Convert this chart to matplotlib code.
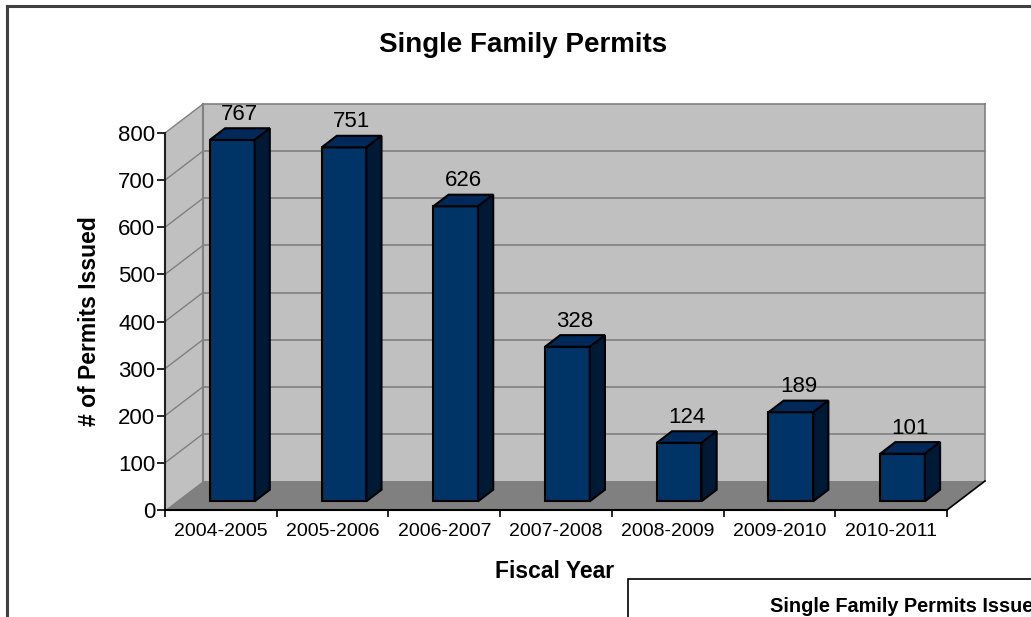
import matplotlib
matplotlib.use("Agg")
import matplotlib.pyplot as plt
from matplotlib.patches import Polygon, Rectangle
from matplotlib.lines import Line2D

# data
fiscal_years = ["2004-2005", "2005-2006", "2006-2007", "2007-2008",
                "2008-2009", "2009-2010", "2010-2011"]
permits_issued = [767, 751, 626, 328, 124, 189, 101]
y_ticks = [0, 100, 200, 300, 400, 500, 600, 700, 800]

plt.rcParams['font.family'] = ['Liberation Sans', 'DejaVu Sans']

W, H = 1031, 617
fig = plt.figure(figsize=(W / 100, H / 100), dpi=100)
fig.patch.set_facecolor("white")

# front plane of the pseudo-3D box maps onto this axes
ax = fig.add_axes([165 / W, 107 / H, 782 / W, 377 / H])
n = len(fiscal_years)
ymax = y_ticks[-1]
ax.set_xlim(0, n)
ax.set_ylim(0, ymax)
ax.patch.set_visible(False)

# depth of the box in data units (38 px right, 29 px up)
dx = 38 / (782 / n)
dy = 29 * ymax / 377

wall_color = "#c0c0c0"
floor_color = "#808080"
grid_color = "#808080"

# back wall, side wall, floor
ax.add_patch(Polygon([(dx, dy), (n + dx, dy), (n + dx, ymax + dy), (dx, ymax + dy)],
                     closed=True, facecolor=wall_color, edgecolor="none", clip_on=False, zorder=1))
ax.add_patch(Polygon([(0, 0), (dx, dy), (dx, ymax + dy), (0, ymax)],
                     closed=True, facecolor=wall_color, edgecolor="none", clip_on=False, zorder=1))
ax.add_patch(Polygon([(0, 0), (n, 0), (n + dx, dy), (dx, dy)],
                     closed=True, facecolor=floor_color, edgecolor="none", clip_on=False, zorder=1))

# gridlines on back wall and side wall
for v in y_ticks[1:]:
    ax.plot([dx, n + dx], [v + dy, v + dy], color=grid_color, lw=1.2, clip_on=False, zorder=2)
    ax.plot([0, dx], [v, v + dy], color=grid_color, lw=1.0, clip_on=False, zorder=2)
ax.plot([dx, dx], [dy, ymax + dy], color=grid_color, lw=1.5, clip_on=False, zorder=2)
ax.plot([n + dx, n + dx], [dy, ymax + dy], color=grid_color, lw=1.2, clip_on=False, zorder=2)
ax.plot([n, n + dx], [0, dy], color="black", lw=1.2, clip_on=False, zorder=2)

# bars
bar_w = 0.4
t0, t1 = 0.3, 0.7
bdx, bdy = (t1 - t0) * dx, (t1 - t0) * dy
for i, v in enumerate(permits_issued):
    x0 = i + 0.5 - bar_w / 2 + t0 * dx
    y0 = t0 * dy
    ax.add_patch(Rectangle((x0, y0), bar_w, v, facecolor="#003366", edgecolor="black",
                           lw=1.5, clip_on=False, zorder=3))
    ax.add_patch(Polygon([(x0, y0 + v), (x0 + bar_w, y0 + v), (x0 + bar_w + bdx, y0 + v + bdy),
                          (x0 + bdx, y0 + v + bdy)], closed=True, facecolor="#00295a",
                         edgecolor="black", lw=1.5, clip_on=False, zorder=3))
    ax.add_patch(Polygon([(x0 + bar_w, y0), (x0 + bar_w + bdx, y0 + bdy),
                          (x0 + bar_w + bdx, y0 + v + bdy), (x0 + bar_w, y0 + v)], closed=True,
                         facecolor="#001a35", edgecolor="black", lw=1.5, clip_on=False, zorder=3))
    ax.annotate(str(v), (i + 0.5 + 0.5 * dx, v + t1 * dy), xytext=(0, 6),
                textcoords="offset points", ha="center", va="baseline", fontsize=16,
                annotation_clip=False, zorder=4)

# axes, ticks
for s in ["top", "right"]:
    ax.spines[s].set_visible(False)
ax.spines["left"].set_color("#202020")
ax.spines["left"].set_linewidth(1.5)
ax.spines["bottom"].set_color("black")
ax.spines["bottom"].set_linewidth(1.5)
ax.spines["left"].set_zorder(5)
ax.spines["bottom"].set_zorder(5)

ax.set_yticks(y_ticks)
ax.tick_params(axis="y", labelsize=16, length=6, width=1.2, pad=1, direction="out")
ax.set_xticks(range(n + 1))
ax.set_xticklabels([])
ax.set_xticks([i + 0.5 for i in range(n)], minor=True)
ax.set_xticklabels(fiscal_years, minor=True)
ax.tick_params(axis="x", which="major", length=5, width=1.2, direction="out")
ax.tick_params(axis="x", which="minor", length=0, labelsize=14, pad=9)

# titles
fig.text(523 / W, 1 - 45 / H, "Single Family Permits", ha="center", va="center",
         fontsize=20, fontweight="bold")
fig.text(90 / W, 1 - 321 / H, "# of Permits Issued", ha="center", va="center",
         rotation=90, fontsize=16.5, fontweight="bold")
fig.text(555 / W, 1 - 571 / H, "Fiscal Year", ha="center", va="center",
         fontsize=16.5, fontweight="bold")

# outer chart border (left and top)
fig.add_artist(Line2D([7 / W, 7 / W], [0, 1 - 6 / H], transform=fig.transFigure,
                      color="#404040", lw=2.2))
fig.add_artist(Line2D([7 / W, 1], [1 - 6 / H, 1 - 6 / H], transform=fig.transFigure,
                      color="#404040", lw=2.2))

# the neighbouring chart peeking in at the bottom right (cut off by the frame, as in the source)
fig.add_artist(Rectangle((628 / W, -0.05), 0.5, 0.05 + (H - 579) / H, transform=fig.transFigure,
                         facecolor="white", edgecolor="black", lw=1.2))
fig.text(770 / W, 1 - 607 / H, "Single Family Permits Issued", ha="left", va="center",
         fontsize=14.3, fontweight="bold")

fig.savefig("out.png", dpi=100)
